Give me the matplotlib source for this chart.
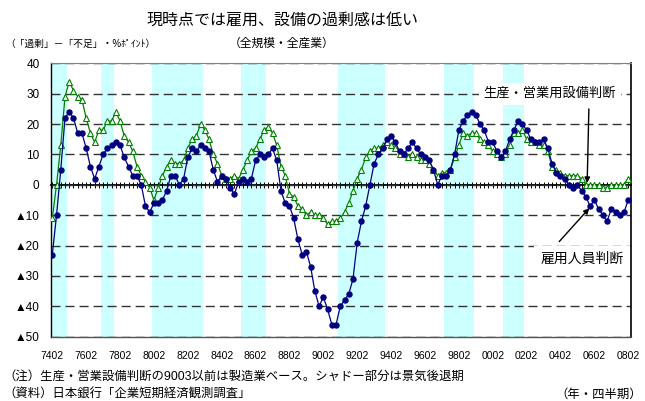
import matplotlib
matplotlib.use("Agg")
import matplotlib.pyplot as plt
import numpy as np

plt.rcParams['font.family'] = ['Liberation Sans', 'Noto Sans CJK JP']

# 日銀短観 DI（「過剰」－「不足」）, 全規模・全産業, 7402 から 0802 まで四半期
start_year, start_q = 1974, 2

koyou = [-23, -10, 5, 22, 24, 22, 17, 17, 12, 6, 2, 6, 10, 12, 13, 14,
         13, 9, 6, 3, 3, 0, -7, -9, -6, -6, -5, -2, 3, 3, 0, 2,
         9, 12, 11, 13, 12, 11, 5, 1, 3, 2, -1, -3, 1, 2, 1, 2,
         8, 10, 9, 10, 12, 8, -2, -6, -7, -11, -18, -23, -22, -27, -35, -40,
         -37, -41, -46, -46, -40, -38, -36, -31, -19, -12, -7, 0, 7, 10, 12, 15,
         16, 14, 11, 10, 12, 14, 12, 10, 9, 8, 5, 0, 3, 3, 5, 10,
         18, 21, 23, 24, 23, 20, 18, 14, 14, 11, 9, 11, 15, 18, 21, 20,
         18, 15, 14, 14, 15, 12, 7, 4, 3, 2, 0, -1, 0, -2, -4, -7,
         -5, -8, -10, -12, -8, -9, -10, -9, -5]

setsubi = [-11, 0, 13, 29, 34, 31, 29, 28, 22, 17, 14, 18, 18, 21, 21, 24,
           21, 16, 14, 11, 6, 3, 1, -1, -5, -1, 3, 6, 8, 7, 7, 8,
           12, 15, 16, 20, 18, 15, 10, 7, 3, 2, 2, 3, 2, 5, 8, 11,
           12, 15, 18, 19, 17, 13, 6, 3, -3, -4, -7, -8, -10, -9, -10, -10,
           -11, -13, -12, -12, -11, -9, -6, -2, 2, 5, 9, 11, 12, 12, 13, 14,
           13, 12, 10, 10, 9, 10, 9, 8, 8, 7, 5, 3, 4, 4, 5, 9,
           13, 17, 16, 17, 17, 15, 14, 13, 11, 10, 9, 10, 13, 17, 17, 18,
           15, 14, 14, 13, 13, 11, 6, 5, 4, 3, 3, 3, 3, 2, 0, 0,
           0, 0, -1, -1, 0, 0, 0, 0, 2]

# 景気後退期（シャドー）
recessions = [("7402", "7501"), ("7702", "7704"), ("8002", "8301"),
              ("8503", "8604"), ("9102", "9304"), ("9703", "9901"),
              ("0101", "0201")]

yticks = list(range(-50, 41, 10))


def qlabel(k):
    t = start_q - 1 + k
    return "%02d%02d" % ((start_year + t // 4) % 100, t % 4 + 1)


labels = [qlabel(k) for k in range(len(koyou))]
pos = {lab: k for k, lab in enumerate(labels)}
x = np.arange(len(labels))

fig = plt.figure(figsize=(6.45, 4.01), dpi=100)
ax = fig.add_axes([0.0786, 0.1604, 0.8997, 0.6818])

for s, e in recessions:
    ax.axvspan(pos[s] - 0.5, pos[e] + 0.5, color='#CCFFFF', lw=0, zorder=0)

ax.set_xlim(-0.38, len(x) - 0.35)
ax.set_ylim(-50, 40)

ax.set_yticks(yticks)
ax.set_yticklabels([str(v) if v >= 0 else '▲%d' % -v for v in yticks])
ax.grid(axis='y', color='#333333', lw=1.0, dashes=(6.5, 3.6), zorder=1)
ax.tick_params(axis='y', length=0, pad=8, labelsize=8.5)

ax.set_xticks(x[::8])
ax.set_xticklabels(labels[::8])
ax.tick_params(axis='x', length=0, pad=10, labelsize=7.5)

ax.plot(x, setsubi, color='#008000', lw=0.9, marker='^', ms=4.3,
        mfc='white', mec='#008000', mew=0.8, zorder=3)
ax.plot(x, koyou, color='#000080', lw=0.9, marker='o', ms=3.6,
        mfc='#000080', mec='#000080', zorder=4)

# 0 の位置の横軸（四半期ごとの目盛）
zero_frac = (0 - yticks[0]) / (yticks[-1] - yticks[0])
sec = ax.secondary_xaxis(zero_frac)
sec.set_xticks(x)
sec.set_xticklabels([''] * len(x))
sec.tick_params(axis='x', direction='inout', length=5, width=0.7)
for sp in sec.spines.values():
    sp.set_linewidth(1.3)

ax.spines['top'].set_color('#808080')
ax.spines['left'].set_linewidth(1.0)
ax.spines['right'].set_linewidth(1.2)
ax.spines['bottom'].set_linewidth(1.0)
ax.spines['bottom'].set_color('#555555')

# 系列名と矢印
ax.text(117.5, 29.9, '生産・営業用設備判断', ha='center', va='center',
        fontsize=9.5, zorder=6,
        bbox=dict(boxstyle='square,pad=0.35', fc='white', ec='none'))
ax.annotate('', xy=(126.3, 0.6), xytext=(126.7, 25.0),
            arrowprops=dict(arrowstyle='-|>', color='black', lw=1.0,
                            mutation_scale=8, shrinkA=0, shrinkB=0),
            zorder=6)
ax.text(125.1, -24.4, '雇用人員判断', ha='center', va='center',
        fontsize=10, zorder=6, clip_on=False,
        bbox=dict(boxstyle='square,pad=0.45', fc='white', ec='none'))
ax.annotate('', xy=(126.8, -7.7), xytext=(119.7, -18.7),
            arrowprops=dict(arrowstyle='-|>', color='black', lw=1.0,
                            mutation_scale=8, shrinkA=0, shrinkB=0),
            zorder=6)

fig.text(283 / 645, 1 - 20 / 401, '現時点では雇用、設備の過剰感は低い',
         ha='center', va='center', fontsize=11.5)
fig.text(282 / 645, 1 - 44 / 401, '（全規模・全産業）',
         ha='center', va='center', fontsize=8.5)
fig.text(5 / 645, 1 - 44 / 401, '（「過剰」－「不足」・%ﾎﾟｲﾝﾄ）',
         ha='left', va='center', fontsize=7)
fig.text(3 / 645, 1 - 377 / 401,
         '（注）生産・営業設備判断の9003以前は製造業ベース。シャドー部分は景気後退期',
         ha='left', va='center', fontsize=8.9)
fig.text(3 / 645, 1 - 395 / 401, '（資料）日本銀行「企業短期経済観測調査」',
         ha='left', va='center', fontsize=8.9)
fig.text(642 / 645, 1 - 395 / 401, '（年・四半期）',
         ha='right', va='center', fontsize=8.9)

fig.savefig('out.png', dpi=100)
